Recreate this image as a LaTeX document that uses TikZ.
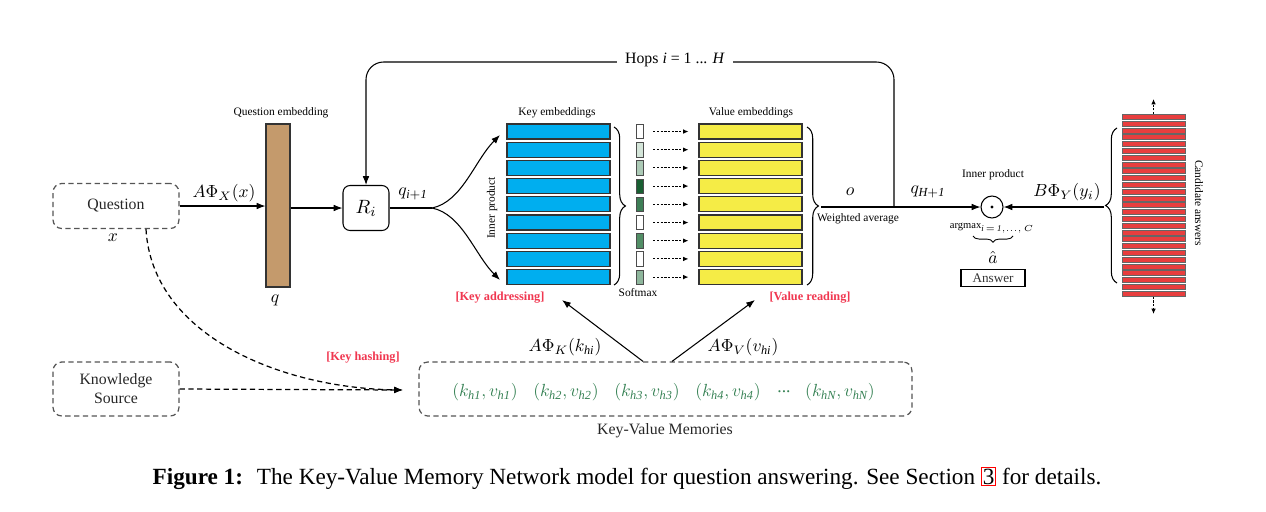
\documentclass[tikz,border=0pt]{standalone}
\usepackage{fontspec}
\setmainfont{Liberation Serif}
\usepackage{tikz}
\usetikzlibrary{positioning,arrows.meta,decorations.pathreplacing}

\definecolor{keyblue}{RGB}{0,174,239}
\definecolor{valyellow}{RGB}{245,236,70}
\definecolor{qtan}{RGB}{196,154,108}
\definecolor{lblred}{RGB}{240,55,80}
\definecolor{memgreen}{RGB}{55,130,85}
\definecolor{candred}{RGB}{232,62,62}
\definecolor{boxgray}{RGB}{85,85,85}
\definecolor{smA}{RGB}{212,229,217}
\definecolor{smB}{RGB}{172,202,182}
\definecolor{smC}{RGB}{25,95,50}
\definecolor{smD}{RGB}{62,126,86}
\definecolor{smE}{RGB}{82,142,102}
\definecolor{smF}{RGB}{142,182,156}

\tikzset{
	>={Latex[length=5pt,width=3.8pt]},
	tinylbl/.style={font=\fontsize{6.5}{7.5}\selectfont},
	mlbl/.style={font=\fontsize{10}{12}\selectfont},
	redlbl/.style={text=lblred, font=\fontsize{7}{8}\selectfont\bfseries},
	memlbl/.style={text=memgreen, font=\fontsize{10}{11}\selectfont},
	dashbox/.style={draw=boxgray, dash pattern=on 3pt off 2pt, rounded corners=5pt, line width=0.7pt, font=\fontsize{9}{10.8}\selectfont, text=black!85},
	dasharrow/.style={->, dash pattern=on 3pt off 2pt, line width=0.7pt},
	dotarrow/.style={-{Latex[length=3pt,width=2.6pt]}, dash pattern=on 1.2pt off 0.9pt},
	keybar/.style={draw=black!80, fill=keyblue, minimum width=2.06cm, minimum height=0.3cm, inner sep=0},
	valbar/.style={draw=black!80, fill=valyellow, minimum width=2.06cm, minimum height=0.3cm, inner sep=0},
	smbox/.style={draw=black!70, minimum width=0.14cm, minimum height=0.29cm, inner sep=0, line width=0.4pt},
	candbar/.style={draw=black!60, fill=candred, minimum width=1.26cm, minimum height=0.1cm, inner sep=0, line width=0.5pt},
	brc/.style={decorate, decoration={brace, amplitude=6.5pt}, line width=0.6pt}
}

\begin{document}
\begin{tikzpicture}[x=0.02cm, y=-0.02cm, line width=0.6pt]
	\useasboundingbox (0,0) rectangle (1266,511);

	% question side
	\node[dashbox, minimum width=2.52cm, minimum height=0.9cm] (question) at (116,206) {Question};
	\node[mlbl] (xlbl) at (113,238) {$x$};
	\node[draw=black!80, fill=qtan, minimum width=0.48cm, minimum height=3.26cm, inner sep=0] (qemb) at (278,205.5) {};
	\node[tinylbl] at (281,113) {Question embedding};
	\node[mlbl] at (275,300) {$q$};
	\node[mlbl] at (224,193) {$A\Phi_X(x)$};
	\draw[->] (question.east) -- (question.east -| qemb.west);
	\node[draw, rounded corners=4pt, minimum width=0.92cm, minimum height=0.9cm, font=\fontsize{11}{13}\selectfont] (R) at (366,208) {$R_i$};
	\draw[->] (qemb.east |- R.west) -- (R.west);
	\coordinate (split) at (432,208);
	\draw (R.east) -- (split);
	\node[mlbl] at (413,194) {$q_{\mathit{i+1}}$};
	\coordinate (kup) at (500,135);
	\coordinate (kdn) at (500,280);
	\draw[->] (split) .. controls (462,202) and (475,160) .. (kup);
	\draw[->] (split) .. controls (462,214) and (475,255) .. (kdn);
	\node[tinylbl, rotate=90] at (492,208) {Inner product};

	% memory slots
	\foreach \i/\shade in {0/white,1/smA,2/smB,3/smC,4/smD,5/white,6/smE,7/white,8/smF} {
		\node[keybar] (k\i) at (558.5, 131.5+18.2*\i) {};
		\node[valbar] (v\i) at (750.5, 131.5+18.2*\i) {};
		\node[smbox, fill=\shade] (s\i) at (639.5, 131.5+18.2*\i) {};
		\draw[dotarrow] ([xshift=0.2cm]s\i.east) -- ([xshift=-0.2cm]v\i.west);
	};
	\draw[brc] (614,127) -- (614,285);
	\draw[brc] (807,127) -- (807,285);
	\node[tinylbl] at (557,113) {Key embeddings};
	\node[tinylbl] at (751,113) {Value embeddings};
	\node[tinylbl] at (638,293) {Softmax};
	\node[redlbl] (kaddrlbl) at (500,298) {[Key addressing]};
	\node[redlbl] (vreadlbl) at (810,298) {[Value reading]};

	% output
	\coordinate (otip) at (821,207);
	\node[circle, draw, minimum size=0.44cm, inner sep=0] (ip) at (992,207) {};
	\fill (ip.center) circle (0.9pt);
	\draw[->] (otip) -- (ip.west);
	\coordinate (hopj) at (894,207);
	\draw[->, rounded corners=10pt] (hopj) -- (hopj |- 0,62) -- (R.north |- 0,62) -- (R.north);
	\node[fill=white, inner xsep=4.5pt, font=\fontsize{9}{11}\selectfont] at (675,60) {Hops \textit{i} = 1 ... \textit{H}};
	\node[mlbl] at (850,192) {$o$};
	\node[tinylbl] at (858,219) {Weighted average};
	\node[mlbl] at (928,192) {$q_{\mathit{H+1}}$};
	\node[tinylbl] at (993,175) {Inner product};
	\node[mlbl] at (1067,192) {$B\Phi_Y(y_i)$};
	\node[font=\fontsize{6}{7}\selectfont] at (992,228) {argmax$_{\mathit{i}\,=\,\mathit{1},\ldots,\,C}$};
	\draw[decorate, decoration={brace, amplitude=3.5pt}, line width=0.5pt] (1013,236) -- (973,236);
	\node[mlbl] at (993,257) {$\hat{a}$};
	\node[draw, minimum width=1.28cm, minimum height=0.34cm, inner sep=0, font=\fontsize{7.5}{9}\selectfont, text=black!80] (answer) at (993,278) {Answer};

	% candidate answers
	\foreach \i in {0,...,26} {
		\node[candbar] (c\i) at (1153.5, 117+6.8*\i) {};
	};
	\coordinate (ctop) at (1153.5,99);
	\coordinate (cbot) at (1153.5,314);
	\draw[dotarrow] (c0.north) -- (ctop);
	\draw[dotarrow] (c26.south) -- (cbot);
	\draw[brc] (1117,283) -- (1117,128);
	\coordinate (ctip) at (1104,207);
	\draw[->] (ctip) -- (ip.east);
	\node[tinylbl, rotate=-90] at (1199,203) {Candidate answers};

	% knowledge and memories
	\node[dashbox, minimum width=2.52cm, minimum height=1.08cm, align=center] (know) at (116,389) {Knowledge\\Source};
	\node[dashbox, minimum width=9.86cm, minimum height=1.08cm] (kv) at (665.5,389) {};
	\foreach \x/\n in {485/1,566/2,647/3,728/4} {
		\node[memlbl] (m\n) at (\x,392) {$(k_{\mathit{h\n}}, v_{\mathit{h\n}})$};
	};
	\node[memlbl] (mdots) at (784,392) {...};
	\node[memlbl] (mN) at (840,392) {$(k_{\mathit{hN}}, v_{\mathit{hN}})$};
	\node[font=\fontsize{9}{11}\selectfont, text=black!85] at (665,431) {Key-Value Memories};
	\coordinate (kvin) at (403,390);
	\draw[dasharrow] (know.east) -- (kvin);
	\draw[dasharrow] ([xshift=0.6cm]question.south) .. controls (152,335) and (280,388) .. (kvin);
	\node[redlbl] at (363,358) {[Key hashing]};
	\coordinate (kaddr) at (562,300);
	\coordinate (vread) at (755,300);
	\draw[->] ([xshift=-0.45cm]kv.north) -- (kaddr);
	\draw[->] ([xshift=0.13cm]kv.north) -- (vread);
	\node[mlbl] at (565,347) {$A\Phi_K(k_{\mathit{hi}})$};
	\node[mlbl] at (743,347) {$A\Phi_V(v_{\mathit{hi}})$};

	% caption
	\node[font=\fontsize{13.2}{15}\selectfont] at (627,478) {\textbf{Figure 1:}\hspace{0.6em}The Key-Value Memory Network model for question answering. See Section {\setlength{\fboxsep}{0.6pt}\setlength{\fboxrule}{0.5pt}\color{red}\fbox{\color{black}3}} for details.};
\end{tikzpicture}
\end{document}
